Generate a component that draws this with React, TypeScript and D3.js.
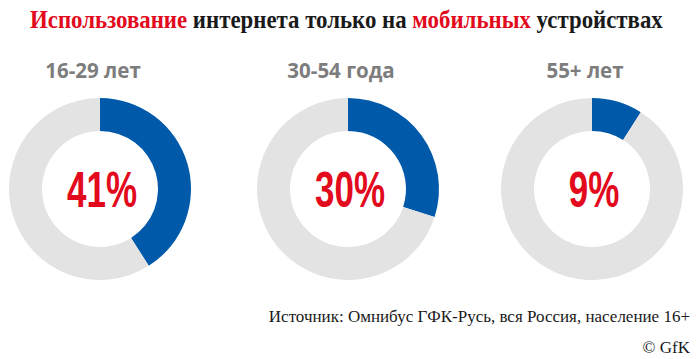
import React, { useLayoutEffect, useRef, useState } from "react";
import * as d3 from "d3";

const groups = ["16-29 лет", "30-54 года", "55+ лет"];
const shares = [41, 30, 9];
const centersX = [100, 348, 592];

const titleParts = [
  { text: "Использование", red: true },
  { text: " интернета только на ", red: false },
  { text: "мобильных", red: true },
  { text: " устройствах", red: false },
];
const sourceText = "Источник: Омнибус ГФК-Русь, вся Россия, население 16+";
const copyright = "© GfK";

const RED = "#e20a1c";
const BLUE = "#0059a9";
const GRAY = "#e3e3e3";

export default function App() {
  const W = 700, H = 359;
  const cy = 189;
  const outerR = 91;
  const innerR = 58;
  const pie = d3.pie<number>().sort(null).value((d) => d);
  const arc = d3.arc<d3.PieArcDatum<number>>().innerRadius(innerR).outerRadius(outerR);
  const titleRef = useRef<SVGTextElement>(null);
  const [titleScale, setTitleScale] = useState(1);
  useLayoutEffect(() => {
    if (titleRef.current) {
      const w = titleRef.current.getComputedTextLength();
      if (w > 0) setTitleScale(633 / w);
    }
  }, []);

  return (
    <svg width={W} height={H} style={{ position: "absolute", left: 0, top: 0 }}>
      <rect width={W} height={H} fill="#fff" />
      <g transform={`translate(30,28) scale(${titleScale},1)`}>
        <text ref={titleRef} x={0} y={0} fontFamily="'Liberation Serif', serif" fontWeight="bold" fontSize={25}>
          {titleParts.map((p, i) => (
            <tspan key={i} fill={p.red ? RED : "#1a1a1a"}>{p.text}</tspan>
          ))}
        </text>
      </g>
      {groups.map((g, i) => {
        const arcs = pie([shares[i], 100 - shares[i]]);
        const cx = centersX[i];
        return (
          <g key={g}>
            <text x={cx - 7} y={78} textAnchor="middle" fontFamily="'Open Sans', sans-serif" fontWeight="bold" fontSize={20.5} fill="#7d7d7d">{g}</text>
            <g transform={`translate(${cx},${cy})`}>
              {arcs.map((a, j) => (
                <path key={j} d={arc(a) || ""} fill={j === 0 ? BLUE : GRAY} />
              ))}
              <g transform="translate(2,18) scale(0.7,1)">
                <text x={0} y={0} textAnchor="middle" fontFamily="'Liberation Sans', sans-serif" fontWeight="bold" fontSize={50} fill={RED}>{shares[i]}%</text>
              </g>
            </g>
          </g>
        );
      })}
      <text x={690} y={322} textAnchor="end" fontFamily="'Liberation Serif', serif" fontSize={17} fill="#1a1a1a">{sourceText}</text>
      <text x={690} y={353} textAnchor="end" fontFamily="'Liberation Serif', serif" fontSize={17} fill="#1a1a1a">{copyright}</text>
    </svg>
  );
}
